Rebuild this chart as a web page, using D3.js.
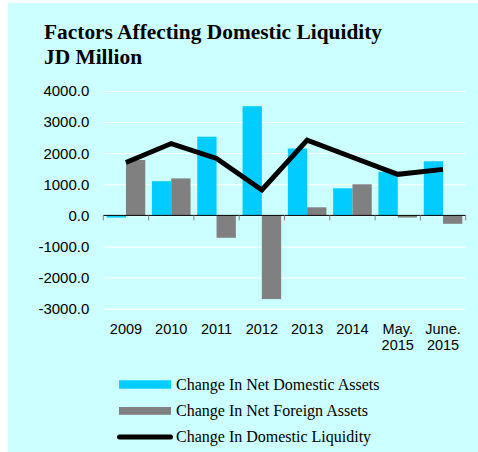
<!DOCTYPE html>
<html>
<head>
<meta charset="utf-8">
<script src="https://cdn.jsdelivr.net/npm/d3@7"></script>
<style>
  html, body { margin: 0; padding: 0; background: #ffffff; }
  svg { display: block; }
</style>
</head>
<body>
<div id="chartContainer"></div>
<script>
const categories = ["2009", "2010", "2011", "2012", "2013", "2014", "May. 2015", "June. 2015"];
const categoryLines = [["2009"], ["2010"], ["2011"], ["2012"], ["2013"], ["2014"], ["May.", "2015"], ["June.", "2015"]];
const netDomesticAssets = [-70, 1100, 2530, 3510, 2150, 870, 1400, 1740];
const netForeignAssets = [1780, 1190, -720, -2690, 260, 1000, -70, -270];
const domesticLiquidity = [1700, 2310, 1830, 815, 2420, 1870, 1320, 1480];
const yTicks = [-3000, -2000, -1000, 0, 1000, 2000, 3000, 4000];
const seriesNames = ["Change In Net Domestic Assets", "Change In Net Foreign Assets", "Change In Domestic Liquidity"];

function pageLoaded() {
  const w = 478;
  const h = 452;
  const colors = { nda: "#00ccff", nfa: "#808080", line: "#000000", bg: "#ccffff" };

  const svg = d3.select("#chartContainer")
    .append("svg")
    .attr("width", w)
    .attr("height", h);

  svg.append("rect")
    .attr("x", 8).attr("y", 3)
    .attr("width", w - 8).attr("height", h - 3)
    .attr("fill", colors.bg);

  // title
  const title = svg.append("text")
    .attr("x", 44)
    .attr("y", 38.5)
    .attr("font-family", "'Liberation Serif', 'Times New Roman', serif")
    .attr("font-weight", "bold")
    .attr("font-size", "21.4px")
    .attr("fill", "#000");
  title.append("tspan").attr("x", 44).text("Factors Affecting Domestic Liquidity");
  title.append("tspan").attr("x", 44).attr("dy", 25).text("JD Million");

  const plot = { left: 103.3, right: 465.7, top: 91, bottom: 308.7 };

  const xScale = d3.scaleBand()
    .domain(categories)
    .range([plot.left, plot.right]);

  const subScale = d3.scaleBand()
    .domain(["nda", "nfa"])
    .range([0, xScale.bandwidth()])
    .paddingOuter(0.174);

  const yScale = d3.scaleLinear()
    .domain([-3000, 4000])
    .range([plot.bottom, plot.top]);

  // y axis with gridlines (hyphen minus like the original)
  const yAxis = d3.axisLeft(yScale)
    .tickValues(yTicks)
    .tickFormat((d) => d.toFixed(1))
    .tickSize(-(plot.right - plot.left))
    .tickPadding(14);

  const yG = svg.append("g")
    .attr("transform", `translate(${plot.left},0)`)
    .call(yAxis);
  yG.select(".domain").remove();
  yG.selectAll(".tick line").attr("stroke", "#ffffff").attr("stroke-width", 1);
  yG.selectAll(".tick text")
    .attr("font-family", "'Liberation Sans', Arial, sans-serif")
    .attr("font-size", "15px")
    .attr("fill", "#000");

  // bars
  const rows = categories.map((c, i) => ({
    cat: c,
    values: [
      { key: "nda", value: netDomesticAssets[i] },
      { key: "nfa", value: netForeignAssets[i] }
    ]
  }));

  const groups = svg.append("g")
    .selectAll("g")
    .data(rows)
    .enter()
    .append("g")
    .attr("transform", (d) => `translate(${xScale(d.cat)},0)`);

  groups.selectAll("rect")
    .data((d) => d.values)
    .enter()
    .append("rect")
    .attr("x", (d) => subScale(d.key))
    .attr("y", (d) => yScale(Math.max(0, d.value)))
    .attr("width", subScale.bandwidth())
    .attr("height", (d) => Math.abs(yScale(d.value) - yScale(0)))
    .attr("fill", (d) => colors[d.key]);

  // zero axis + category ticks
  const y0 = yScale(0);
  svg.append("line")
    .attr("x1", plot.left).attr("x2", plot.right)
    .attr("y1", y0).attr("y2", y0)
    .attr("stroke", "#000").attr("stroke-width", 1);

  const tickXs = categories.map((c) => xScale(c)).concat([plot.right]);
  svg.append("g")
    .selectAll("line")
    .data(tickXs)
    .enter()
    .append("line")
    .attr("x1", (d) => d).attr("x2", (d) => d)
    .attr("y1", y0).attr("y2", y0 + 5)
    .attr("stroke", "#808080").attr("stroke-width", 1);

  // x labels
  const xLabels = svg.append("g")
    .selectAll("text")
    .data(categories)
    .enter()
    .append("text")
    .attr("text-anchor", "middle")
    .attr("font-family", "'Liberation Sans', Arial, sans-serif")
    .attr("font-size", "14.5px")
    .attr("fill", "#000")
    .attr("y", 333.5);
  xLabels.each(function (d, i) {
    const cx = xScale(d) + xScale.bandwidth() / 2;
    categoryLines[i].forEach((t, j) => {
      d3.select(this).append("tspan")
        .attr("x", cx)
        .attr("dy", j === 0 ? 0 : 16)
        .text(t);
    });
  });

  // liquidity line
  const line = d3.line()
    .x((d, i) => xScale(categories[i]) + xScale.bandwidth() / 2)
    .y((d) => yScale(d));

  svg.append("path")
    .datum(domesticLiquidity)
    .attr("d", line)
    .attr("fill", "none")
    .attr("stroke", colors.line)
    .attr("stroke-width", 5)
    .attr("stroke-linejoin", "miter")
    .attr("stroke-linecap", "butt");

  // legend
  const legend = svg.append("g");
  const legendY = [389.5, 415.5, 441.5];

  legend.append("rect")
    .attr("x", 119).attr("y", 380.3)
    .attr("width", 52).attr("height", 8.4)
    .attr("fill", colors.nda);
  legend.append("rect")
    .attr("x", 119).attr("y", 407)
    .attr("width", 52).attr("height", 7.8)
    .attr("fill", colors.nfa);
  legend.append("line")
    .attr("x1", 119.5).attr("x2", 170.5)
    .attr("y1", 437).attr("y2", 437)
    .attr("stroke", colors.line)
    .attr("stroke-width", 5)
    .attr("stroke-linecap", "round");

  legend.selectAll("text")
    .data(seriesNames)
    .enter()
    .append("text")
    .attr("x", 176)
    .attr("y", (d, i) => legendY[i])
    .attr("font-family", "'Liberation Serif', 'Times New Roman', serif")
    .attr("font-size", "16px")
    .attr("fill", "#000")
    .text((d) => d);
}

window.addEventListener("load", pageLoaded);
</script>
</body>
</html>
